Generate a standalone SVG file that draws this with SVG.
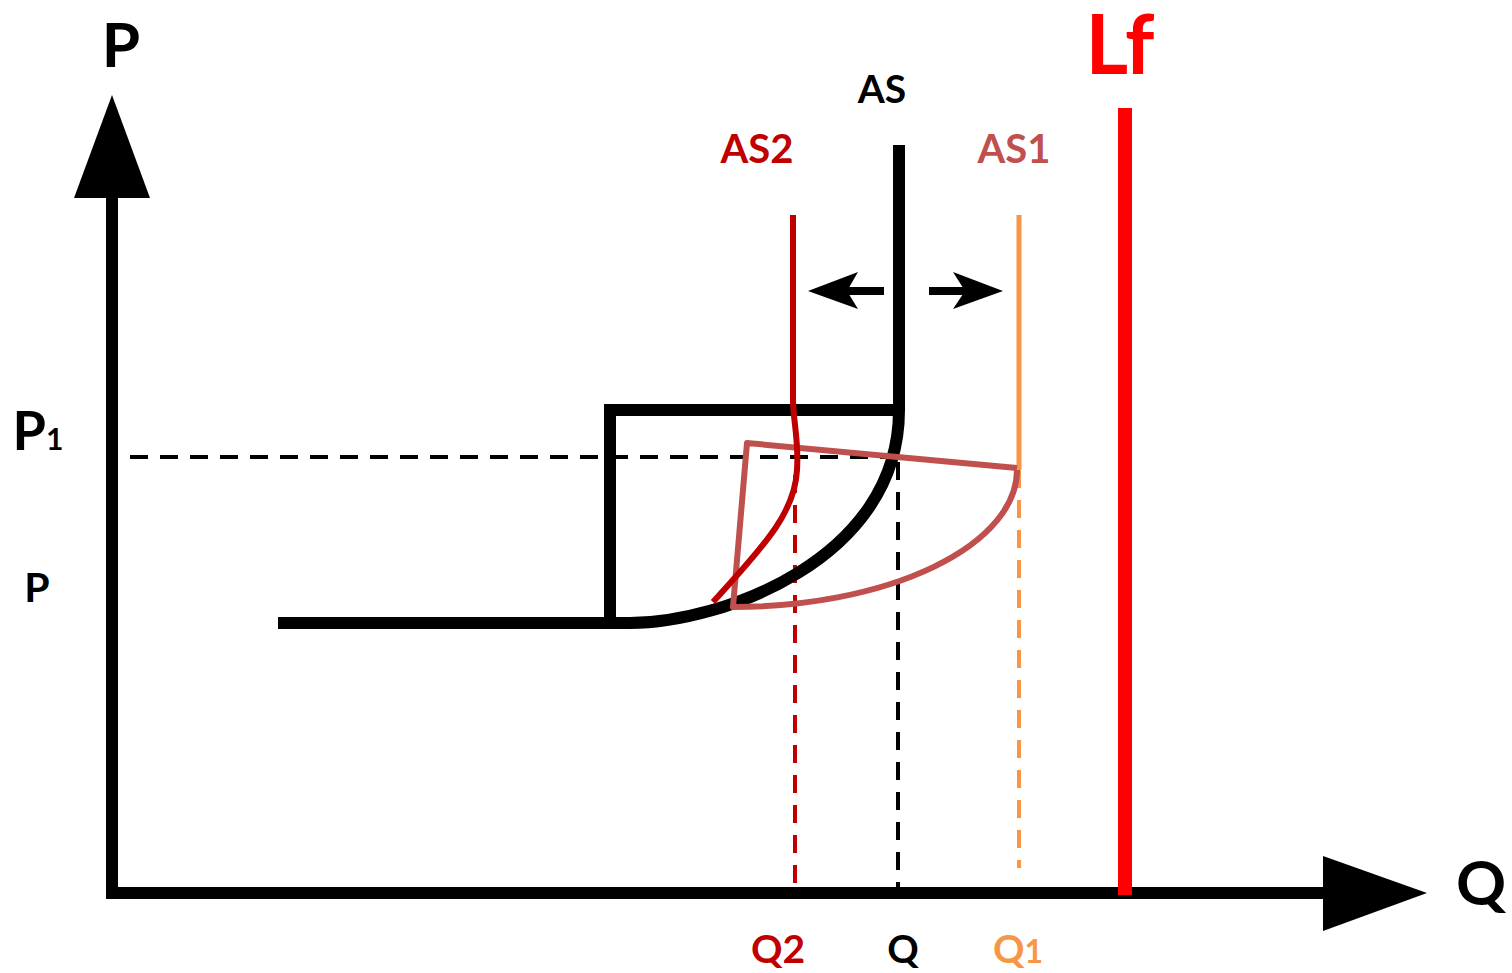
<svg xmlns="http://www.w3.org/2000/svg" width="1512" height="973" viewBox="0 0 1512 973">
<style>
text{font-family:Lato,"Open Sans","Liberation Sans",sans-serif;font-weight:bold;text-anchor:middle}
.blk{fill:none;stroke:#000;stroke-width:12}
.dash{fill:none;stroke-width:4;stroke-dasharray:18 12}
</style>
<rect width="1512" height="973" fill="#fff"/>
<g id="axes">
<line x1="112" y1="190" x2="112" y2="899" stroke="#000" stroke-width="12"/>
<polygon points="112,95 150,198 74,198" fill="#000"/>
<line x1="106" y1="893" x2="1330" y2="893" stroke="#000" stroke-width="12"/>
<polygon points="1427,893 1323,856 1323,931" fill="#000"/>
<text x="121" y="67" font-size="62">P</text>
<text x="1481" y="905" font-size="62">Q</text>
</g>
<g id="lf">
<line x1="1125" y1="108" x2="1125" y2="895" stroke="#FF0000" stroke-width="14"/>
<text x="1120" y="74" font-size="82" fill="#FF0000">Lf</text>
</g>
<g id="connectors">
<line x1="130" y1="457" x2="898" y2="457" class="dash" stroke="#000" stroke-width="4"/>
<line x1="898" y1="462" x2="898" y2="890" class="dash" stroke="#000" stroke-width="4.5"/>
<line x1="795" y1="475" x2="795" y2="890" class="dash" stroke="#C00000" stroke-width="4.5" stroke-dasharray="22 14"/>
<line x1="1019" y1="470" x2="1019" y2="868" class="dash" stroke="#F79646" stroke-width="4.5" stroke-dasharray="22 14"/>
<line x1="847" y1="291" x2="884" y2="291" stroke="#000" stroke-width="8"/>
<polygon points="808,291 858,272 847,291 858,309" fill="#000"/>
<line x1="929" y1="291" x2="967" y2="291" stroke="#000" stroke-width="8"/>
<polygon points="1003,291 953,272 965,291 953,309" fill="#000"/>
</g>
<g id="as">
<path class="blk" d="M610,623 L610,410 L899,410"/>
<path class="blk" d="M899,145 L899,410 C899,560 720,623 630,623 L278,623"/>
<text x="882" y="103" font-size="39" fill="#000">AS</text>
</g>
<g id="as1">
<line x1="1019" y1="215" x2="1019" y2="470" stroke="#F79646" stroke-width="5"/>
<path d="M1017,468 L747,443 L733,607 A284 137 0 0 0 1017,470" fill="none" stroke="#C0504D" stroke-width="6" stroke-linejoin="round"/>
<text x="1014" y="163" font-size="40" fill="#C0504D">AS1</text>
</g>
<g id="as2">
<path d="M793,215 L793,400 C793,420 799,440 797,470 C795,510 770,540 713,602" fill="none" stroke="#C00000" stroke-width="6"/>
<text x="757" y="163" font-size="40" fill="#C00000">AS2</text>
</g>
<g id="labels">
<text x="38" y="450" font-size="54">P<tspan font-size="30">1</tspan></text>
<text x="37" y="602" font-size="41">P</text>
<text x="778" y="963" font-size="39" fill="#C00000">Q2</text>
<text x="903" y="963" font-size="39" fill="#000">Q</text>
<text x="1018" y="963" font-size="39" fill="#F79646">Q<tspan font-size="32">1</tspan></text>
</g>
</svg>
